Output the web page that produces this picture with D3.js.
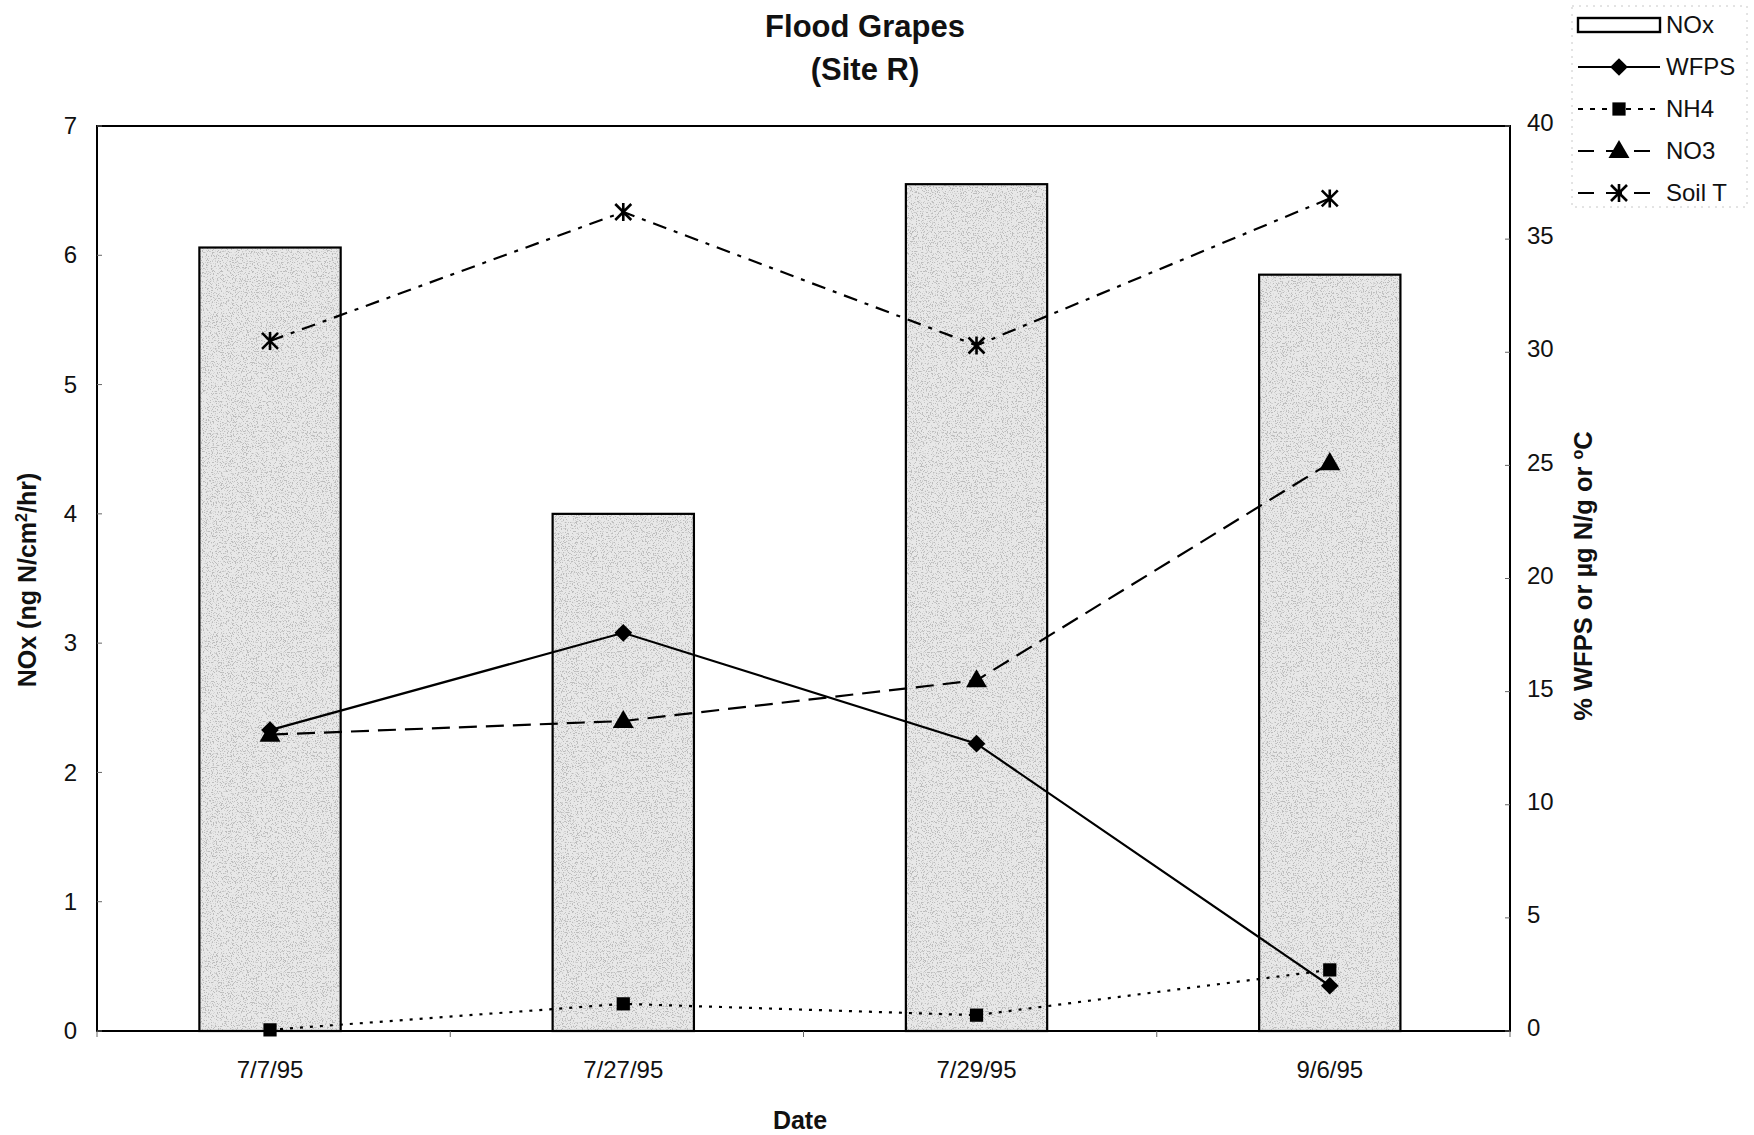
<!DOCTYPE html>
<html>
<head>
<meta charset="utf-8">
<script src="https://cdn.jsdelivr.net/npm/d3@7"></script>
<style>
  html, body { margin: 0; padding: 0; background: #fff; }
  svg { display: block; font-family: "Liberation Sans", Arial, sans-serif; }
</style>
</head>
<body>
<svg id="chart" width="1754" height="1135"></svg>
<script>
// Sampling dates
const categories = ["7/7/95", "7/27/95", "7/29/95", "9/6/95"];

// NOx flux (ng N/cm2/hr), left axis
const noxValues = [6.06, 4.0, 6.55, 5.85];

// Right-axis series (% WFPS, ug N/g, or deg C)
const wfpsValues = [13.3, 17.6, 12.7, 2.0];
const nh4Values = [0.05, 1.2, 0.7, 2.7];
const no3Values = [13.1, 13.7, 15.5, 25.1];
const soilTValues = [30.5, 36.2, 30.3, 36.8];

// Axis ticks
const leftTicks = [0, 1, 2, 3, 4, 5, 6, 7];
const rightTicks = [0, 5, 10, 15, 20, 25, 30, 35, 40];

const svg = d3.select("#chart");
const plot = { left: 97, right: 1510, top: 126, bottom: 1031 };

const x = d3.scaleBand()
  .domain(categories)
  .range([plot.left, plot.right])
  .paddingInner(0.6)
  .paddingOuter(0.3)
  .align(0.483);
const yL = d3.scaleLinear().domain([0, 7]).range([plot.bottom, plot.top]);
const yR = d3.scaleLinear().domain([0, 40]).range([plot.bottom, plot.top]);
const cx = d => x(d) + x.bandwidth() / 2;

// Speckled fill for the bars
const defs = svg.append("defs");
const filt = defs.append("filter").attr("id", "speckle")
  .attr("x", 0).attr("y", 0).attr("width", 1).attr("height", 1)
  .attr("filterUnits", "objectBoundingBox");
filt.append("feTurbulence").attr("type", "fractalNoise")
  .attr("baseFrequency", 0.8).attr("numOctaves", 2).attr("seed", 7).attr("result", "noise");
filt.append("feColorMatrix").attr("in", "noise").attr("type", "matrix")
  .attr("values", "0 0 0 0 0.5  0 0 0 0 0.5  0 0 0 0 0.5  9 0 0 0 -4.9")
  .attr("result", "dots");
filt.append("feComposite").attr("in", "dots").attr("in2", "SourceGraphic")
  .attr("operator", "in").attr("result", "dotsIn");
const merge = filt.append("feMerge");
merge.append("feMergeNode").attr("in", "SourceGraphic");
merge.append("feMergeNode").attr("in", "dotsIn");

// Bars
const barData = categories.map((c, i) => ({ c, v: noxValues[i] }));
svg.append("g").selectAll("rect").data(barData).join("rect")
  .attr("x", d => x(d.c)).attr("y", d => yL(d.v))
  .attr("width", x.bandwidth()).attr("height", d => yL(0) - yL(d.v))
  .attr("fill", "#e8e8e8").attr("filter", "url(#speckle)");
svg.append("g").selectAll("rect").data(barData).join("rect")
  .attr("x", d => x(d.c)).attr("y", d => yL(d.v))
  .attr("width", x.bandwidth()).attr("height", d => yL(0) - yL(d.v))
  .attr("fill", "none").attr("stroke", "#000").attr("stroke-width", 2.2);

// Plot frame
svg.append("rect")
  .attr("x", plot.left).attr("y", plot.top)
  .attr("width", plot.right - plot.left).attr("height", plot.bottom - plot.top)
  .attr("fill", "none").attr("stroke", "#000").attr("stroke-width", 2);

// Tick marks
const tickG = svg.append("g").attr("stroke", "#666").attr("stroke-width", 1);
leftTicks.forEach(t => tickG.append("line")
  .attr("x1", plot.left).attr("x2", plot.left + 5).attr("y1", yL(t)).attr("y2", yL(t)));
rightTicks.forEach(t => tickG.append("line")
  .attr("x1", plot.right - 5).attr("x2", plot.right).attr("y1", yR(t)).attr("y2", yR(t)));
d3.range(categories.length + 1).forEach(k => {
  const bx = plot.left + k * x.step();
  tickG.append("line").attr("x1", bx).attr("x2", bx).attr("y1", plot.bottom).attr("y2", plot.bottom + 6);
});

// Axes (labels only)
const axisFont = g => g.selectAll("text").attr("font-size", 24).attr("fill", "#111")
  .attr("font-family", "'Liberation Sans', Arial, sans-serif");

const gL = svg.append("g").attr("transform", `translate(${plot.left},0)`)
  .call(d3.axisLeft(yL).tickValues(leftTicks).tickFormat(d3.format("d")).tickSize(0).tickPadding(20));
gL.select(".domain").remove();
axisFont(gL);

const gR = svg.append("g").attr("transform", `translate(${plot.right},-3)`)
  .call(d3.axisRight(yR).tickValues(rightTicks).tickFormat(d3.format("d")).tickSize(0).tickPadding(17));
gR.select(".domain").remove();
axisFont(gR);

const gB = svg.append("g").attr("transform", `translate(0,${plot.bottom})`)
  .call(d3.axisBottom(x).tickSize(0).tickPadding(30));
gB.select(".domain").remove();
axisFont(gB);

// Series lines and markers
const lineGen = vals => d3.line().x((d, i) => cx(categories[i])).y(d => yR(d))(vals);

const series = [
  { vals: wfpsValues, dash: null, marker: "diamond" },
  { vals: nh4Values, dash: "3,7", marker: "square" },
  { vals: no3Values, dash: "18,9", marker: "triangle" },
  { vals: soilTValues, dash: "14,8,4,8", marker: "star" }
];

function drawMarker(g, type, px, py) {
  if (type === "diamond") {
    g.append("path").attr("d", d3.symbol(d3.symbolDiamond2, 200)())
      .attr("transform", `translate(${px},${py})`).attr("fill", "#000");
  } else if (type === "square") {
    g.append("path").attr("d", d3.symbol(d3.symbolSquare, 175)())
      .attr("transform", `translate(${px},${py})`).attr("fill", "#000");
  } else if (type === "triangle") {
    g.append("path").attr("d", d3.symbol(d3.symbolTriangle, 190)())
      .attr("transform", `translate(${px},${py + 1})`).attr("fill", "#000");
  } else if (type === "star") {
    const r = 8;
    const p = `M${-r},${-r}L${r},${r}M${-r},${r}L${r},${-r}M0,${-r - 1}L0,${r + 1}`;
    g.append("path").attr("d", p).attr("transform", `translate(${px},${py})`)
      .attr("stroke", "#000").attr("stroke-width", 2.6).attr("fill", "none");
  }
}

series.forEach(s => {
  const g = svg.append("g");
  g.append("path").attr("d", lineGen(s.vals)).attr("fill", "none")
    .attr("stroke", "#000").attr("stroke-width", 2.2)
    .attr("stroke-dasharray", s.dash);
  s.vals.forEach((v, i) => drawMarker(g, s.marker, cx(categories[i]), yR(v)));
});

// Titles
const title = svg.append("text").attr("text-anchor", "middle")
  .attr("font-weight", "bold").attr("font-size", 31).attr("fill", "#111");
title.append("tspan").attr("x", 865).attr("y", 37).text("Flood Grapes");
title.append("tspan").attr("x", 865).attr("y", 80).text("(Site R)");

svg.append("text").attr("x", 800).attr("y", 1129).attr("text-anchor", "middle")
  .attr("font-weight", "bold").attr("font-size", 25).attr("fill", "#111").text("Date");

const lt = svg.append("text").attr("transform", "translate(36,580) rotate(-90)")
  .attr("text-anchor", "middle").attr("font-weight", "bold").attr("font-size", 25).attr("fill", "#111");
lt.append("tspan").text("NOx (ng N/cm");
lt.append("tspan").attr("font-size", 16).attr("dy", -9).text("2");
lt.append("tspan").attr("dy", 9).text("/hr)");

const rt = svg.append("text").attr("transform", "translate(1592,576) rotate(-90)")
  .attr("text-anchor", "middle").attr("font-weight", "bold").attr("font-size", 25.5).attr("fill", "#111");
rt.append("tspan").text("% WFPS or \u00B5g N/g or ");
rt.append("tspan").attr("font-size", 16).attr("dy", -9).text("o");
rt.append("tspan").attr("dy", 9).text("C");

// Legend
const legend = svg.append("g");
legend.append("rect").attr("x", 1572).attr("y", 6).attr("width", 175).attr("height", 201)
  .attr("fill", "none").attr("stroke", "#c8c8c8").attr("stroke-width", 1).attr("stroke-dasharray", "2,5");
const legendItems = [
  { name: "NOx", type: "bar" },
  { name: "WFPS", dash: null, marker: "diamond" },
  { name: "NH4", dash: "5,7", marker: "square" },
  { name: "NO3", dash: "16,12", marker: "triangle" },
  { name: "Soil T", dash: "16,12", marker: "star" }
];
legendItems.forEach((it, i) => {
  const ly = 25 + i * 42;
  if (it.type === "bar") {
    legend.append("rect").attr("x", 1578).attr("y", ly - 7).attr("width", 82).attr("height", 14)
      .attr("fill", "#fff").attr("stroke", "#000").attr("stroke-width", 2.4);
  } else {
    legend.append("line").attr("x1", 1578).attr("x2", 1660).attr("y1", ly).attr("y2", ly)
      .attr("stroke", "#000").attr("stroke-width", 2).attr("stroke-dasharray", it.dash);
    drawMarker(legend, it.marker, 1619, ly);
  }
  legend.append("text").attr("x", 1666).attr("y", ly).attr("dy", "0.35em")
    .attr("font-size", 24).attr("fill", "#111").text(it.name);
});
</script>
</body>
</html>
